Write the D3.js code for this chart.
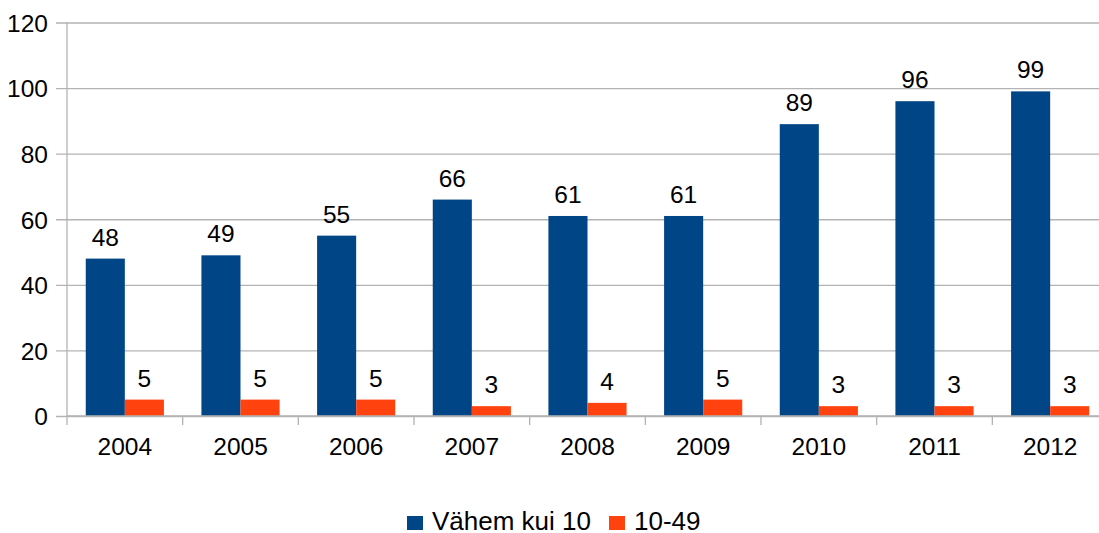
<!DOCTYPE html>
<html>
<head>
<meta charset="utf-8">
<script src="https://cdn.jsdelivr.net/npm/d3@7"></script>
<style>
  body { margin: 0; background: #fff; }
  svg text { font-family: "Liberation Sans", Arial, sans-serif; fill: #000; }
</style>
</head>
<body>
<div id="chart"></div>
<script>
var years = ["2004", "2005", "2006", "2007", "2008", "2009", "2010", "2011", "2012"];
var seriesNames = ["Vähem kui 10", "10-49"];
var small = [48, 49, 55, 66, 61, 61, 89, 96, 99];
var medium = [5, 5, 5, 3, 4, 5, 3, 3, 3];
var yTicks = [0, 20, 40, 60, 80, 100, 120];
var colors = ["#004586", "#ff420e"];

var svgWidth = 1099;
var svgHeight = 533;

// plot area (right side runs past the picture edge, like the original)
var plotL = 67, plotR = 1108, plotT = 22.5, plotB = 416;

var svg = d3.select("#chart")
  .append("svg")
  .attr("width", svgWidth)
  .attr("height", svgHeight);

var data = years.map((y, i) => ({ year: y, values: [small[i], medium[i]] }));

var xScale = d3.scaleBand()
  .domain(years)
  .range([plotL, plotR])
  .paddingInner(0)
  .paddingOuter(0);

var inner = d3.scaleBand()
  .domain([0, 1])
  .range([0, xScale.bandwidth()])
  .paddingInner(0)
  .paddingOuter(0.48);

var yScale = d3.scaleLinear()
  .domain([0, 120])
  .range([plotB, plotT]);

// gridlines + y labels
var yAxis = d3.axisLeft(yScale)
  .tickValues(yTicks)
  .tickSize(-(plotR - plotL))
  .tickSizeOuter(0)
  .tickPadding(20);

var gy = svg.append("g")
  .attr("transform", `translate(${plotL},0)`)
  .call(yAxis);
gy.select(".domain").remove();
gy.selectAll(".tick line")
  .attr("x1", -11)
  .attr("stroke", "#b3b3b3")
  .attr("stroke-width", 1.3);
gy.selectAll(".tick text")
  .attr("x", -19)
  .attr("font-size", 24.5)
  .attr("dy", "0.36em");

// vertical axis line
svg.append("line")
  .attr("x1", plotL).attr("x2", plotL)
  .attr("y1", plotT).attr("y2", plotB + 9)
  .attr("stroke", "#b3b3b3")
  .attr("stroke-width", 1.3);

// bars
var groups = svg.selectAll(".grp")
  .data(data)
  .enter()
  .append("g")
  .attr("class", "grp")
  .attr("transform", d => `translate(${xScale(d.year)},0)`);

groups.selectAll("rect")
  .data(d => d.values)
  .enter()
  .append("rect")
  .attr("x", (v, i) => inner(i))
  .attr("width", inner.bandwidth())
  .attr("y", v => yScale(v))
  .attr("height", v => plotB - yScale(v))
  .attr("fill", (v, i) => colors[i]);

groups.selectAll(".val")
  .data(d => d.values)
  .enter()
  .append("text")
  .attr("class", "val")
  .attr("x", (v, i) => inner(i) + inner.bandwidth() / 2)
  .attr("y", v => yScale(v) - 13)
  .attr("text-anchor", "middle")
  .attr("font-size", 24.5)
  .text(v => v);

// x axis
var xAxis = d3.axisBottom(xScale)
  .tickSize(0)
  .tickPadding(22);

var gx = svg.append("g")
  .attr("transform", `translate(0,${plotB})`)
  .call(xAxis);
gx.select(".domain").remove();
gx.selectAll(".tick text").attr("font-size", 24.5);

svg.append("line")
  .attr("x1", plotL).attr("x2", plotR)
  .attr("y1", plotB).attr("y2", plotB)
  .attr("stroke", "#b3b3b3")
  .attr("stroke-width", 1.3);

// category separators below the axis
svg.selectAll(".sep")
  .data(years.slice(1).concat(["end"]))
  .enter()
  .append("line")
  .attr("class", "sep")
  .attr("x1", (d, i) => plotL + (i + 1) * xScale.step())
  .attr("x2", (d, i) => plotL + (i + 1) * xScale.step())
  .attr("y1", plotB)
  .attr("y2", plotB + 9)
  .attr("stroke", "#b3b3b3")
  .attr("stroke-width", 1.3);

// legend
var legendX = [407, 609];
var legend = svg.selectAll(".leg")
  .data(seriesNames)
  .enter()
  .append("g")
  .attr("class", "leg")
  .attr("transform", (d, i) => `translate(${legendX[i]},516)`);

legend.append("rect")
  .attr("width", 16)
  .attr("height", 14)
  .attr("fill", (d, i) => colors[i]);

legend.append("text")
  .attr("x", 25)
  .attr("y", 14)
  .attr("font-size", 26)
  .text(d => d);
</script>
</body>
</html>
